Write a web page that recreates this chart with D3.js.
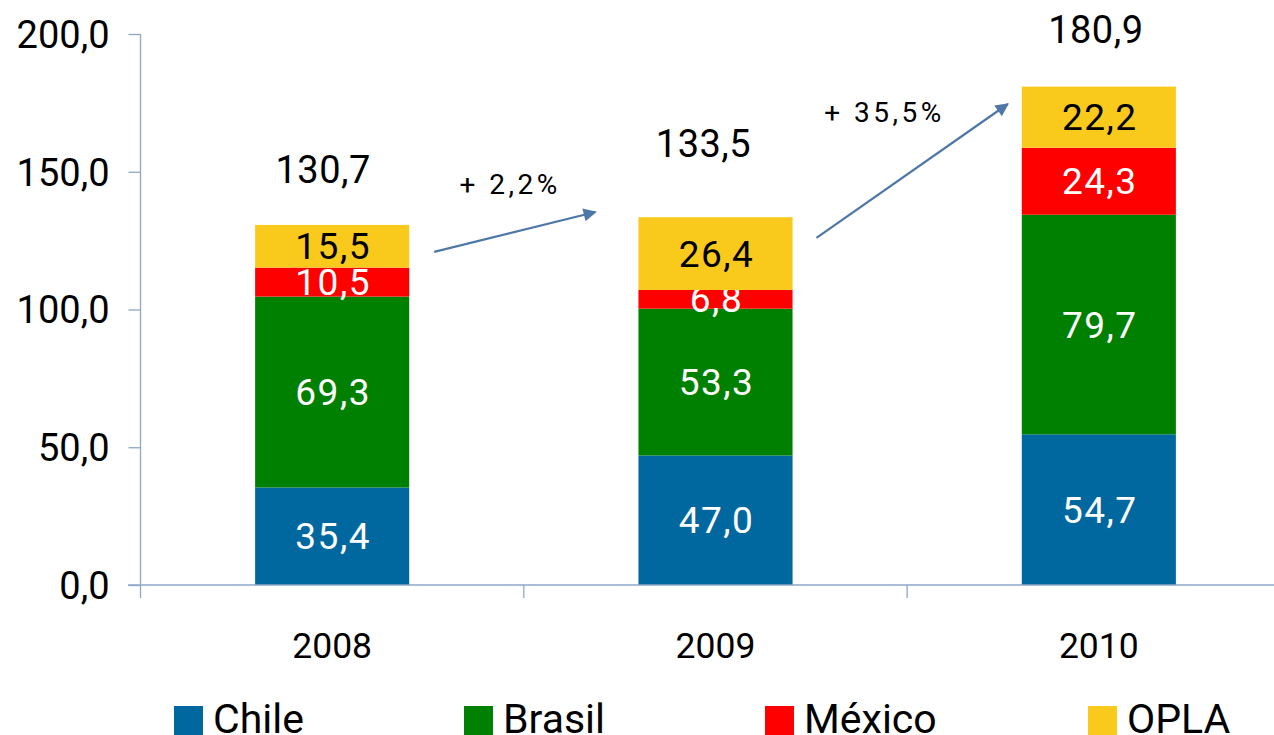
<!DOCTYPE html>
<html><head><meta charset="utf-8">
<script src="https://cdn.jsdelivr.net/npm/d3@7/dist/d3.min.js"></script>
<style>html,body{margin:0;padding:0;background:#fff;}svg{display:block;}</style>
</head><body>
<svg id="chart" width="1274" height="735"></svg>
<script>
const years = ["2008", "2009", "2010"];
const seriesNames = ["Chile", "Brasil", "México", "OPLA"];
const chile = [35.4, 47.0, 54.7];
const brasil = [69.3, 53.3, 79.7];
const mexico = [10.5, 6.8, 24.3];
const opla = [15.5, 26.4, 22.2];
const totals = [130.7, 133.5, 180.9];
const growthLabels = ["+ 2,2%", "+ 35,5%"];
const yTicks = [0, 50, 100, 150, 200];

const colors = ["#00689f", "#008000", "#ff0000", "#f9c91c"];
const labelColors = ["#fff", "#fff", "#fff", "#000"];
const values = [chile, brasil, mexico, opla];

const svg = d3.select("#chart");
const font = "Roboto, 'Noto Sans', sans-serif";
const fmt = v => v.toFixed(1).replace(".", ",");

const x = d3.scaleBand().domain(years).range([140.5, 1290.5]).padding(0);
const y = d3.scaleLinear().domain([0, 200]).range([585, 34]);
const barW = x.bandwidth() * 0.402;
const cx = yr => x(yr) + x.bandwidth() / 2;
const axisColor = "#8fa6c9";

// stacked data
const stackData = years.map((yr, i) => {
  const o = {year: yr};
  seriesNames.forEach((s, k) => o[s] = values[k][i]);
  return o;
});
const stacked = d3.stack().keys(seriesNames)(stackData);

const g = svg.append("g");
stacked.forEach((layer, k) => {
  g.selectAll(null).data(layer).enter().append("rect")
    .attr("x", d => cx(d.data.year) - barW / 2)
    .attr("y", d => y(d[1]))
    .attr("width", barW)
    .attr("height", d => y(d[0]) - y(d[1]))
    .attr("fill", colors[k]);
  g.selectAll(null).data(layer).enter().append("text")
    .attr("x", d => cx(d.data.year) + 1)
    .attr("y", d => (y(d[0]) + y(d[1])) / 2 + 13)
    .attr("text-anchor", "middle")
    .attr("font-family", font).attr("font-size", 37)
    .attr("letter-spacing", 1.5)
    .attr("fill", labelColors[k])
    .text(d => fmt(d[1] - d[0]));
});

// y axis
const yAxis = svg.append("g").attr("transform", "translate(140.5,0)")
  .call(d3.axisLeft(y).tickValues(yTicks).tickSize(12).tickPadding(19).tickFormat(fmt));
yAxis.select(".domain").attr("stroke", axisColor).attr("stroke-width", 1.3).attr("d", "M0,34V585");
yAxis.selectAll(".tick line").attr("stroke", axisColor).attr("stroke-width", 1.3);
yAxis.selectAll(".tick text").attr("font-family", font).attr("font-size", 38).attr("fill", "#000").attr("dy", "0.35em");

// x axis
const xAxis = svg.append("g").attr("transform", "translate(0,585)");
xAxis.append("line").attr("x1", 128).attr("x2", 1274).attr("y1", 0).attr("y2", 0)
  .attr("stroke", axisColor).attr("stroke-width", 1.3);
const bounds = years.map(yr => x(yr));
xAxis.selectAll(null).data(bounds).enter().append("line")
  .attr("x1", d => d).attr("x2", d => d).attr("y1", 0).attr("y2", 13)
  .attr("stroke", axisColor).attr("stroke-width", 1.3);
xAxis.selectAll(null).data(years).enter().append("text")
  .attr("x", d => cx(d)).attr("y", 73).attr("text-anchor", "middle")
  .attr("font-family", font).attr("font-size", 35.5).attr("fill", "#000")
  .text(d => d);

// totals
const totalOffsets = [[-9, -42], [-12, -60], [-3, -44]];
svg.selectAll(null).data(totals).enter().append("text")
  .attr("x", (d, i) => cx(years[i]) + totalOffsets[i][0])
  .attr("y", (d, i) => y(d) + totalOffsets[i][1])
  .attr("text-anchor", "middle")
  .attr("font-family", font).attr("font-size", 38).attr("letter-spacing", 0.5).attr("fill", "#000")
  .text(d => fmt(d));

// growth arrows
const arrowColor = "#4e77a8";
svg.append("defs").append("marker").attr("id", "ah")
  .attr("viewBox", "0 0 10 10").attr("refX", 9).attr("refY", 5)
  .attr("markerWidth", 7).attr("markerHeight", 6).attr("markerUnits", "strokeWidth")
  .attr("orient", "auto")
  .append("path").attr("d", "M0,0L10,5L0,10Z").attr("fill", arrowColor);
const arrows = [
  {x1: cx(years[0]) + 102, y1: y(120.9), x2: cx(years[1]) - 120, y2: y(135.4), lx: cx(years[0]) + 178, ly: 194},
  {x1: cx(years[1]) + 101, y1: y(126.0), x2: cx(years[2]) - 91, y2: y(174.6), lx: cx(years[1]) + 169, ly: 122}
];
arrows.forEach((a, i) => {
  svg.append("line").attr("x1", a.x1).attr("y1", a.y1).attr("x2", a.x2).attr("y2", a.y2)
    .attr("stroke", arrowColor).attr("stroke-width", 2.2).attr("marker-end", "url(#ah)");
  svg.append("text").attr("x", a.lx).attr("y", a.ly).attr("text-anchor", "middle")
    .attr("font-family", font).attr("font-size", 28).attr("letter-spacing", 3.5).attr("fill", "#000")
    .text(growthLabels[i]);
});

// legend
const legendX = [174, 464, 765, 1088];
const lg = svg.append("g");
seriesNames.forEach((s, k) => {
  lg.append("rect").attr("x", legendX[k]).attr("y", 706).attr("width", 29).attr("height", 29).attr("fill", colors[k]);
  lg.append("text").attr("x", legendX[k] + 39).attr("y", 733)
    .attr("font-family", font).attr("font-size", 41).attr("fill", "#000").text(s);
});
</script>
</body></html>
